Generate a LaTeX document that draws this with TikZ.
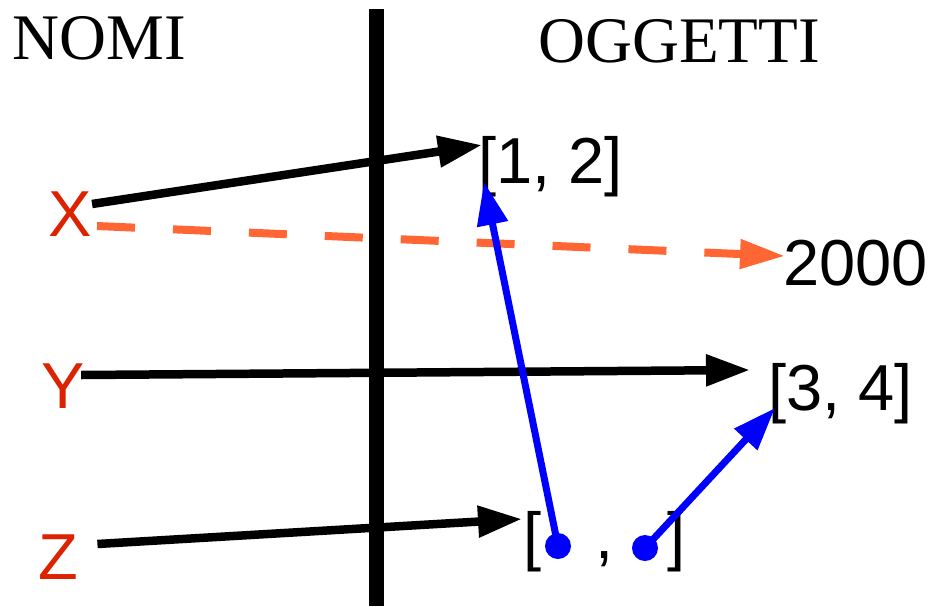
\documentclass[tikz,border=0pt]{standalone}
\usepackage{fontspec}
\setmainfont{Liberation Sans}
\newfontfamily\seriffont{Liberation Serif}
\usepackage{xcolor}
\usetikzlibrary{calc,arrows.meta}
\definecolor{rossonome}{HTML}{DD2200}
\definecolor{arancio}{HTML}{FF6633}
\definecolor{blu}{HTML}{0000FF}

\begin{document}
\begin{tikzpicture}[x=0.02cm, y=-0.02cm,
  testo/.style={inner sep=0, anchor=base west, font=\fontsize{37}{40}\selectfont},
  titolo/.style={testo, font=\fontsize{37}{40}\selectfont\seriffont},
  nome/.style={testo, text=rossonome},
  punto/.style={circle, fill=blu, inner sep=0, minimum size=0.52cm},
  freccia/.style={line width=0.17cm, -{Triangle[length=0.88cm, width=0.6cm]}},
  tratteggio/.style={line width=0.16cm, arancio, dash pattern=on 0.76cm off 0.76cm,
    -{Triangle[length=0.9cm, width=0.56cm]}},
  frecciablu/.style={line width=0.14cm, blu, -{Triangle[length=0.86cm, width=0.6cm]}}]
  \useasboundingbox (0,0) rectangle (930,606);

  % barra tra nomi e oggetti
  \draw[line width=0.3cm] (376,9) -- (376,606);

  \node[titolo] (nomi) at (12,59) {NOMI};
  \node[titolo] (oggetti) at (538,62) {OGGETTI};

  \node[nome] (X) at (48,236) {X};
  \node[nome] (Y) at (41,408) {Y};
  \node[nome] (Z) at (38,579) {Z};

  \node[testo] (l12) at (478,183) {[1, 2]};
  \node[testo] (n2000) at (783,285) {2000};
  \node[testo] (l34) at (768,410) {[3, 4]};
  \node[testo] (lz) at (523,558) {[\hspace{1.08cm},\hspace{1.08cm}]};

  \node[punto] (p1) at (558,546) {};
  \node[punto] (p2) at (645,548) {};

  \draw[freccia] ($(X.base east)+(0,-32)$) -- ($(l12.base west)+(4,-38)$);
  \draw[tratteggio] ($(X.base east)+(5,-10)$) -- ($(n2000.base west)+(2,-29)$);
  \draw[freccia] ($(Y.base east)+(-4,-33)$) -- ($(l34.base west)+(-18,-40)$);
  \draw[freccia] ($(Z.base east)+(19,-35)$) -- ($(lz.base west)+(-1,-39)$);

  % riferimenti della lista
  \draw[frecciablu] (p1.center) -- ($(l12.base west)+(6,-1)$);
  \draw[frecciablu] (p2.center) -- ($(l34.base west)+(7,-2)$);
\end{tikzpicture}
\end{document}
